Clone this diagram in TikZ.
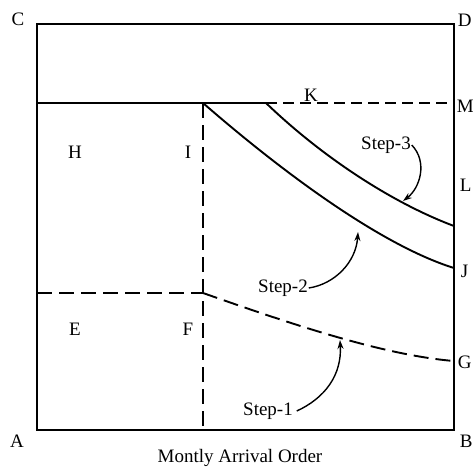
\documentclass[tikz,border=0pt]{standalone}
\usepackage{fontspec}
\setmainfont{Liberation Serif}
\usetikzlibrary{arrows.meta}

\begin{document}
\begin{tikzpicture}[x=1pt,y=-1pt,line width=1.9pt,
  lbl/.style={font=\fontsize{19}{22}\selectfont,inner sep=0pt},
  dashline/.style={dash pattern=on 15pt off 7pt},
  shortdash/.style={dash pattern=on 11pt off 6pt},
  pointer/.style={line width=1.4pt,-{Stealth[length=9pt,width=6pt]}}]
\useasboundingbox (0,0) rectangle (473,467);
% frame corners
\coordinate (A) at (37,430);
\coordinate (B) at (454,430);
\coordinate (C) at (37,24);
\coordinate (D) at (454,24);
\coordinate (Mpt) at (454,103);
\coordinate (Hpt) at (37,103);
\coordinate (Ipt) at (203,103);
\coordinate (Kpt) at (266,103);
\coordinate (Fpt) at (203,430);
\coordinate (Ept) at (37,293);
\coordinate (Ftop) at (203,293);
\coordinate (Jpt) at (454,268);
\coordinate (Lpt) at (454,226);
\coordinate (Gpt) at (454,361);

\draw (C) -- (D) -- (B) -- (A) -- cycle;
\draw (Hpt) -- (Kpt);
\draw[shortdash] (Kpt) -- (Mpt);
\draw[dashline] (Ipt) -- (Fpt);
\draw[dashline] (Ept) -- (Ftop);

% step curves
\draw (Ipt) .. controls (280,170) and (380,245) .. (Jpt);
\draw (Kpt) .. controls (320,155) and (390,202) .. (Lpt);
\draw[dashline] (Ftop) .. controls (280,320) and (380,355) .. (Gpt);

% letters
\node[lbl] (lC) at (18,19) {C};
\node[lbl,anchor=west] (lD) at (457,20) {D};
\node[lbl,anchor=west] (lM) at (456,106) {M};
\node[lbl,anchor=west] (lL) at (459,185) {L};
\node[lbl,anchor=west] (lJ) at (460,271) {J};
\node[lbl,anchor=west] (lG) at (457,362) {G};
\node[lbl,anchor=west] (lB) at (459,441) {B};
\node[lbl] (lA) at (17,441) {A};
\node[lbl] (lH) at (75,152) {H};
\node[lbl] (lI) at (188,152) {I};
\node[lbl] (lE) at (75,329) {E};
\node[lbl] (lF) at (188,329) {F};
\node[lbl] (lK) at (311,95) {K};
\node[lbl] (s3) at (386,145) {Step-3};
\node[lbl] (s2) at (283,288) {Step-2};
\node[lbl] (s1) at (268,411) {Step-1};
\node[lbl] (title) at (240,458) {Montly Arrival Order};

% pointers onto the curves
\coordinate (s3tip) at (403,201);
\coordinate (s2tip) at (358,232);
\coordinate (s1tip) at (340,340);
\draw[pointer] (s3.east) .. controls (428,162) and (420,188) .. (s3tip);
\draw[pointer] (s2.east) .. controls (335,284) and (356,262) .. (s2tip);
\draw[pointer] ([xshift=3pt]s1.east) .. controls (325,398) and (342,375) .. (s1tip);
\end{tikzpicture}
\end{document}
